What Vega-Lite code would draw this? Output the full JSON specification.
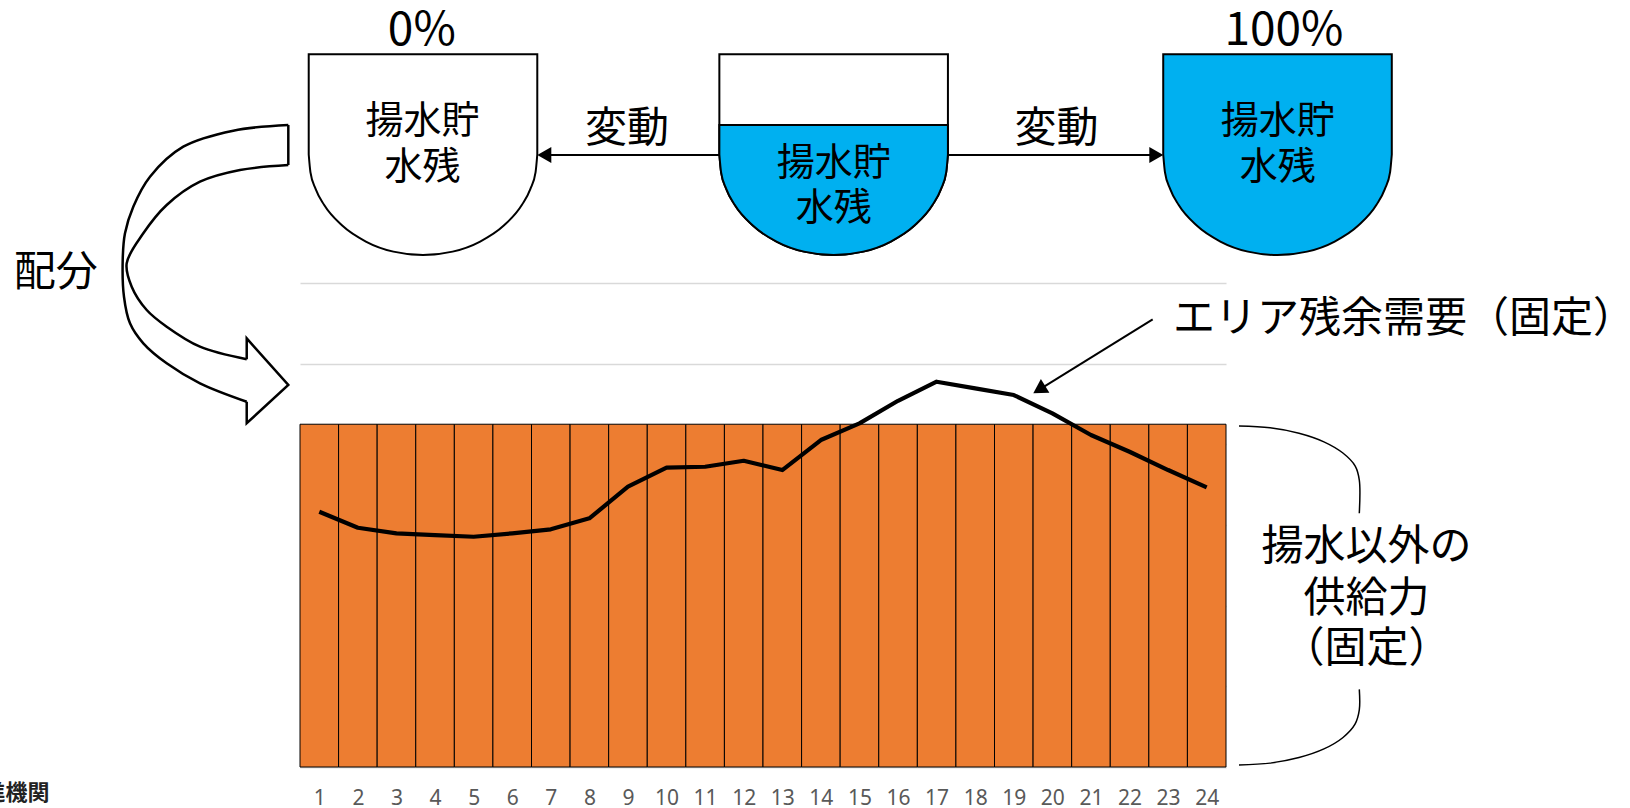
{
  "$schema": "https://vega.github.io/schema/vega-lite/v6.json",
  "width": 926,
  "height": 767,
  "autosize": {"type": "none"},
  "padding": {"left": 300, "top": 0, "right": 404, "bottom": 41},
  "background": "white",
  "config": {"view": {"stroke": null}, "font": "Noto Sans CJK JP"},
  "datasets": {
    "hourly": [
      {"hour": 1, "supply": 425, "demand": 316.5},
      {"hour": 2, "supply": 425, "demand": 296.7},
      {"hour": 3, "supply": 425, "demand": 289.7},
      {"hour": 4, "supply": 425, "demand": 287.6},
      {"hour": 5, "supply": 425, "demand": 285.5},
      {"hour": 6, "supply": 425, "demand": 289.7},
      {"hour": 7, "supply": 425, "demand": 294.7},
      {"hour": 8, "supply": 425, "demand": 308.3},
      {"hour": 9, "supply": 425, "demand": 347.5},
      {"hour": 10, "supply": 425, "demand": 371.1},
      {"hour": 11, "supply": 425, "demand": 372.3},
      {"hour": 12, "supply": 425, "demand": 379.7},
      {"hour": 13, "supply": 425, "demand": 368.2},
      {"hour": 14, "supply": 425, "demand": 405.4},
      {"hour": 15, "supply": 425, "demand": 426.1},
      {"hour": 16, "supply": 425, "demand": 454.1},
      {"hour": 17, "supply": 425, "demand": 477.7},
      {"hour": 18, "supply": 425, "demand": 469.5},
      {"hour": 19, "supply": 425, "demand": 461.2},
      {"hour": 20, "supply": 425, "demand": 438.5},
      {"hour": 21, "supply": 425, "demand": 411.6},
      {"hour": 22, "supply": 425, "demand": 390.9},
      {"hour": 23, "supply": 425, "demand": 368.2},
      {"hour": 24, "supply": 425, "demand": 346.8}
    ],
    "tanks": [
      {"tank": "t1", "part": "shell", "content": "empty", "x": 0.726, "top": 883.6, "bottom": 759.4},
      {"tank": "t1", "part": "shell", "content": "empty", "x": 0.770, "top": 883.6, "bottom": 737.7},
      {"tank": "t1", "part": "shell", "content": "empty", "x": 0.904, "top": 883.6, "bottom": 716.8},
      {"tank": "t1", "part": "shell", "content": "empty", "x": 1.123, "top": 883.6, "bottom": 697.1},
      {"tank": "t1", "part": "shell", "content": "empty", "x": 1.594, "top": 883.6, "bottom": 671.3},
      {"tank": "t1", "part": "shell", "content": "empty", "x": 2.207, "top": 883.6, "bottom": 651.5},
      {"tank": "t1", "part": "shell", "content": "empty", "x": 2.921, "top": 883.6, "bottom": 639.0},
      {"tank": "t1", "part": "shell", "content": "empty", "x": 3.688, "top": 883.6, "bottom": 634.8},
      {"tank": "t1", "part": "shell", "content": "empty", "x": 4.455, "top": 883.6, "bottom": 639.0},
      {"tank": "t1", "part": "shell", "content": "empty", "x": 5.169, "top": 883.6, "bottom": 651.5},
      {"tank": "t1", "part": "shell", "content": "empty", "x": 5.782, "top": 883.6, "bottom": 671.3},
      {"tank": "t1", "part": "shell", "content": "empty", "x": 6.253, "top": 883.6, "bottom": 697.1},
      {"tank": "t1", "part": "shell", "content": "empty", "x": 6.472, "top": 883.6, "bottom": 716.8},
      {"tank": "t1", "part": "shell", "content": "empty", "x": 6.606, "top": 883.6, "bottom": 737.7},
      {"tank": "t1", "part": "shell", "content": "empty", "x": 6.650, "top": 883.6, "bottom": 759.4},
      {"tank": "t2", "part": "shell", "content": "empty", "x": 11.369, "top": 883.6, "bottom": 759.4},
      {"tank": "t2", "part": "shell", "content": "empty", "x": 11.413, "top": 883.6, "bottom": 737.7},
      {"tank": "t2", "part": "shell", "content": "empty", "x": 11.547, "top": 883.6, "bottom": 716.8},
      {"tank": "t2", "part": "shell", "content": "empty", "x": 11.766, "top": 883.6, "bottom": 697.1},
      {"tank": "t2", "part": "shell", "content": "empty", "x": 12.237, "top": 883.6, "bottom": 671.3},
      {"tank": "t2", "part": "shell", "content": "empty", "x": 12.850, "top": 883.6, "bottom": 651.5},
      {"tank": "t2", "part": "shell", "content": "empty", "x": 13.564, "top": 883.6, "bottom": 639.0},
      {"tank": "t2", "part": "shell", "content": "empty", "x": 14.331, "top": 883.6, "bottom": 634.8},
      {"tank": "t2", "part": "shell", "content": "empty", "x": 15.098, "top": 883.6, "bottom": 639.0},
      {"tank": "t2", "part": "shell", "content": "empty", "x": 15.812, "top": 883.6, "bottom": 651.5},
      {"tank": "t2", "part": "shell", "content": "empty", "x": 16.425, "top": 883.6, "bottom": 671.3},
      {"tank": "t2", "part": "shell", "content": "empty", "x": 16.896, "top": 883.6, "bottom": 697.1},
      {"tank": "t2", "part": "shell", "content": "empty", "x": 17.115, "top": 883.6, "bottom": 716.8},
      {"tank": "t2", "part": "shell", "content": "empty", "x": 17.249, "top": 883.6, "bottom": 737.7},
      {"tank": "t2", "part": "shell", "content": "empty", "x": 17.293, "top": 883.6, "bottom": 759.4},
      {"tank": "t2w", "part": "water", "content": "full", "x": 11.369, "top": 795.9, "bottom": 759.4},
      {"tank": "t2w", "part": "water", "content": "full", "x": 11.413, "top": 795.9, "bottom": 737.7},
      {"tank": "t2w", "part": "water", "content": "full", "x": 11.547, "top": 795.9, "bottom": 716.8},
      {"tank": "t2w", "part": "water", "content": "full", "x": 11.766, "top": 795.9, "bottom": 697.1},
      {"tank": "t2w", "part": "water", "content": "full", "x": 12.237, "top": 795.9, "bottom": 671.3},
      {"tank": "t2w", "part": "water", "content": "full", "x": 12.850, "top": 795.9, "bottom": 651.5},
      {"tank": "t2w", "part": "water", "content": "full", "x": 13.564, "top": 795.9, "bottom": 639.0},
      {"tank": "t2w", "part": "water", "content": "full", "x": 14.331, "top": 795.9, "bottom": 634.8},
      {"tank": "t2w", "part": "water", "content": "full", "x": 15.098, "top": 795.9, "bottom": 639.0},
      {"tank": "t2w", "part": "water", "content": "full", "x": 15.812, "top": 795.9, "bottom": 651.5},
      {"tank": "t2w", "part": "water", "content": "full", "x": 16.425, "top": 795.9, "bottom": 671.3},
      {"tank": "t2w", "part": "water", "content": "full", "x": 16.896, "top": 795.9, "bottom": 697.1},
      {"tank": "t2w", "part": "water", "content": "full", "x": 17.115, "top": 795.9, "bottom": 716.8},
      {"tank": "t2w", "part": "water", "content": "full", "x": 17.249, "top": 795.9, "bottom": 737.7},
      {"tank": "t2w", "part": "water", "content": "full", "x": 17.293, "top": 795.9, "bottom": 759.4},
      {"tank": "t3", "part": "shell", "content": "full", "x": 22.873, "top": 883.6, "bottom": 759.4},
      {"tank": "t3", "part": "shell", "content": "full", "x": 22.917, "top": 883.6, "bottom": 737.7},
      {"tank": "t3", "part": "shell", "content": "full", "x": 23.051, "top": 883.6, "bottom": 716.8},
      {"tank": "t3", "part": "shell", "content": "full", "x": 23.270, "top": 883.6, "bottom": 697.1},
      {"tank": "t3", "part": "shell", "content": "full", "x": 23.741, "top": 883.6, "bottom": 671.3},
      {"tank": "t3", "part": "shell", "content": "full", "x": 24.354, "top": 883.6, "bottom": 651.5},
      {"tank": "t3", "part": "shell", "content": "full", "x": 25.068, "top": 883.6, "bottom": 639.0},
      {"tank": "t3", "part": "shell", "content": "full", "x": 25.835, "top": 883.6, "bottom": 634.8},
      {"tank": "t3", "part": "shell", "content": "full", "x": 26.602, "top": 883.6, "bottom": 639.0},
      {"tank": "t3", "part": "shell", "content": "full", "x": 27.316, "top": 883.6, "bottom": 651.5},
      {"tank": "t3", "part": "shell", "content": "full", "x": 27.929, "top": 883.6, "bottom": 671.3},
      {"tank": "t3", "part": "shell", "content": "full", "x": 28.400, "top": 883.6, "bottom": 697.1},
      {"tank": "t3", "part": "shell", "content": "full", "x": 28.619, "top": 883.6, "bottom": 716.8},
      {"tank": "t3", "part": "shell", "content": "full", "x": 28.753, "top": 883.6, "bottom": 737.7},
      {"tank": "t3", "part": "shell", "content": "full", "x": 28.797, "top": 883.6, "bottom": 759.4}
    ],
    "arrowLines": [
      {"id": "toEmpty", "x": 11.369, "y": 758.8, "x2": 6.83, "y2": 758.8},
      {"id": "toFull", "x": 17.295, "y": 758.8, "x2": 22.69, "y2": 758.8},
      {"id": "callout", "x": 22.600, "y": 555.1, "x2": 19.66, "y2": 467.9}
    ],
    "arrowHeads": [
      {"id": "toEmpty", "x": 6.832, "y": 758.8, "dir": 180},
      {"id": "toFull", "x": 22.694, "y": 758.8, "dir": 0},
      {"id": "callout", "x": 19.659, "y": 467.9, "dir": 148.2}
    ],
    "strokes": [
      {"shape": "arrowA", "ord": 0, "x": 0.197, "y": 796.0},
      {"shape": "arrowA", "ord": 1, "x": -1.229, "y": 789.0},
      {"shape": "arrowA", "ord": 2, "x": -2.525, "y": 769.1},
      {"shape": "arrowA", "ord": 3, "x": -3.388, "y": 731.9},
      {"shape": "arrowA", "ord": 4, "x": -3.821, "y": 694.7},
      {"shape": "arrowA", "ord": 5, "x": -4.036, "y": 661.7},
      {"shape": "arrowA", "ord": 6, "x": -4.095, "y": 628.6},
      {"shape": "arrowA", "ord": 7, "x": -4.062, "y": 583.1},
      {"shape": "arrowA", "ord": 8, "x": -3.906, "y": 550.1},
      {"shape": "arrowA", "ord": 9, "x": -3.561, "y": 525.3},
      {"shape": "arrowA", "ord": 10, "x": -2.955, "y": 500.5},
      {"shape": "arrowA", "ord": 11, "x": -2.092, "y": 475.7},
      {"shape": "arrowA", "ord": 12, "x": -0.881, "y": 452.9},
      {"shape": "arrowB", "ord": 0, "x": 0.197, "y": 746.4},
      {"shape": "arrowB", "ord": 1, "x": -1.055, "y": 740.2},
      {"shape": "arrowB", "ord": 2, "x": -2.092, "y": 725.7},
      {"shape": "arrowB", "ord": 3, "x": -2.955, "y": 696.8},
      {"shape": "arrowB", "ord": 4, "x": -3.561, "y": 661.7},
      {"shape": "arrowB", "ord": 5, "x": -3.992, "y": 624.5},
      {"shape": "arrowB", "ord": 6, "x": -3.862, "y": 595.5},
      {"shape": "arrowB", "ord": 7, "x": -3.473, "y": 566.6},
      {"shape": "arrowB", "ord": 8, "x": -2.955, "y": 545.9},
      {"shape": "arrowB", "ord": 9, "x": -2.092, "y": 521.1},
      {"shape": "arrowB", "ord": 10, "x": -0.881, "y": 505.5},
      {"shape": "arrowHead", "ord": 0, "x": -0.881, "y": 505.5},
      {"shape": "arrowHead", "ord": 1, "x": -0.881, "y": 531.5},
      {"shape": "arrowHead", "ord": 2, "x": 0.197, "y": 473.6},
      {"shape": "arrowHead", "ord": 3, "x": -0.881, "y": 426.2},
      {"shape": "arrowHead", "ord": 4, "x": -0.881, "y": 452.9},
      {"shape": "arrowTail", "ord": 0, "x": 0.197, "y": 796.0},
      {"shape": "arrowTail", "ord": 1, "x": 0.197, "y": 746.4},
      {"shape": "braceTop", "ord": 0, "x": 24.837, "y": 422.8},
      {"shape": "braceTop", "ord": 1, "x": 25.643, "y": 420.6},
      {"shape": "braceTop", "ord": 2, "x": 26.392, "y": 413.9},
      {"shape": "braceTop", "ord": 3, "x": 27.038, "y": 403.2},
      {"shape": "braceTop", "ord": 4, "x": 27.530, "y": 389.3},
      {"shape": "braceTop", "ord": 5, "x": 27.849, "y": 373.2},
      {"shape": "braceTop", "ord": 6, "x": 27.955, "y": 355.8},
      {"shape": "braceTop", "ord": 7, "x": 27.955, "y": 314.6},
      {"shape": "braceBottom", "ord": 0, "x": 27.955, "y": 96.3},
      {"shape": "braceBottom", "ord": 1, "x": 27.955, "y": 70.7},
      {"shape": "braceBottom", "ord": 2, "x": 27.844, "y": 53.1},
      {"shape": "braceBottom", "ord": 3, "x": 27.533, "y": 36.6},
      {"shape": "braceBottom", "ord": 4, "x": 27.038, "y": 22.4},
      {"shape": "braceBottom", "ord": 5, "x": 26.392, "y": 11.7},
      {"shape": "braceBottom", "ord": 6, "x": 25.643, "y": 4.8},
      {"shape": "braceBottom", "ord": 7, "x": 24.837, "y": 2.5}
    ],
    "labels": [
      {"kind": "pct", "text": "0%", "x": 3.657, "y": 912.5},
      {"kind": "pct", "text": "100%", "x": 26.0, "y": 912.5},
      {"kind": "big", "text": "変動", "x": 8.978, "y": 790.6},
      {"kind": "big", "text": "変動", "x": 20.104, "y": 790.6},
      {"kind": "big", "text": "配分", "x": -5.832, "y": 612.7},
      {"kind": "big", "text": "エリア残余需要（固定）", "x": 29.113, "y": 556.0},
      {"kind": "big", "text": "揚水以外の", "x": 28.139, "y": 272.8},
      {"kind": "big", "text": "供給力", "x": 28.139, "y": 208.9},
      {"kind": "big", "text": "（固定）", "x": 28.139, "y": 145.7},
      {"kind": "tank", "text": "揚水貯", "x": 3.675, "y": 799.7},
      {"kind": "tank", "text": "水残", "x": 3.675, "y": 742.9},
      {"kind": "tank", "text": "揚水貯", "x": 14.332, "y": 748.0},
      {"kind": "tank", "text": "水残", "x": 14.332, "y": 692.3},
      {"kind": "tank", "text": "揚水貯", "x": 25.840, "y": 799.7},
      {"kind": "tank", "text": "水残", "x": 25.840, "y": 742.9},
      {"kind": "logo", "text": "推進機関", "x": -5.992, "y": -32.2}
    ]
  },
  "layer": [
    {
      "data": {"name": "hourly"},
      "mark": {"type": "bar", "fill": "#ED7D31", "stroke": "black", "strokeWidth": 1, "width": {"expr": "width/24"}},
      "encoding": {
        "x": {
          "field": "hour", "type": "quantitative",
          "scale": {"domain": [0.5, 24.5], "nice": false, "zero": false, "padding": 0},
          "axis": {
            "orient": "bottom",
            "values": [1,2,3,4,5,6,7,8,9,10,11,12,13,14,15,16,17,18,19,20,21,22,23,24],
            "title": null, "ticks": false, "domain": true, "domainColor": "#d9d9d9", "domainWidth": 1.5,
            "grid": false, "labels": true, "labelFontSize": 21, "labelColor": "#595959", "labelPadding": 20,
            "labelFont": "Noto Sans", "format": "d", "labelFlush": false, "labelOverlap": false
          }
        },
        "y": {
          "field": "supply", "type": "quantitative",
          "scale": {"domain": [0, 951], "nice": false, "zero": true},
          "axis": {
            "orient": "left",
            "values": [0, 100, 200, 300, 400, 500, 600], "title": null, "labels": false,
            "ticks": false, "domain": false, "grid": true, "gridColor": "#d9d9d9", "gridWidth": 1.5
          }
        }
      }
    },
    {
      "data": {"name": "hourly"},
      "mark": {"type": "line", "color": "black", "strokeWidth": 4.2, "strokeJoin": "round"},
      "encoding": {
        "x": {"field": "hour", "type": "quantitative", "axis": {"title": null}},
        "y": {"field": "demand", "type": "quantitative", "axis": {"title": null}}
      }
    },
    {
      "data": {"name": "tanks"},
      "transform": [{"filter": "datum.part == 'shell'"}],
      "mark": {"type": "area", "stroke": "black", "strokeWidth": 2, "interpolate": "monotone", "opacity": 1, "fillOpacity": 1},
      "encoding": {
        "x": {"field": "x", "type": "quantitative", "axis": {"title": null}},
        "y": {"field": "top", "type": "quantitative", "stack": null, "axis": {"title": null}},
        "y2": {"field": "bottom"},
        "detail": {"field": "tank", "type": "nominal"},
        "color": {"field": "content", "type": "nominal", "scale": {"domain": ["empty", "full"], "range": ["#ffffff", "#00B0F0"]}, "legend": null}
      }
    },
    {
      "data": {"name": "tanks"},
      "transform": [{"filter": "datum.part == 'water'"}],
      "mark": {"type": "area", "stroke": "black", "strokeWidth": 2, "interpolate": "monotone", "opacity": 1, "fillOpacity": 1},
      "encoding": {
        "x": {"field": "x", "type": "quantitative", "axis": {"title": null}},
        "y": {"field": "top", "type": "quantitative", "stack": null, "axis": {"title": null}},
        "y2": {"field": "bottom"},
        "detail": {"field": "tank", "type": "nominal"},
        "color": {"field": "content", "type": "nominal", "scale": {"domain": ["empty", "full"], "range": ["#ffffff", "#00B0F0"]}, "legend": null}
      }
    },
    {
      "data": {"name": "arrowLines"},
      "mark": {"type": "rule", "color": "black", "strokeWidth": 2},
      "encoding": {
        "x": {"field": "x", "type": "quantitative", "axis": {"title": null}},
        "y": {"field": "y", "type": "quantitative", "axis": {"title": null}},
        "x2": {"field": "x2"},
        "y2": {"field": "y2"}
      }
    },
    {
      "data": {"name": "arrowHeads"},
      "mark": {"type": "point", "shape": "triangle-right", "filled": true, "color": "black", "size": 260, "opacity": 1},
      "encoding": {
        "x": {"field": "x", "type": "quantitative", "axis": {"title": null}},
        "y": {"field": "y", "type": "quantitative", "axis": {"title": null}},
        "angle": {"field": "dir", "type": "quantitative", "scale": null}
      }
    },
    {
      "data": {"name": "strokes"},
      "transform": [{"filter": {"field": "shape", "oneOf": ["arrowA", "arrowB"]}}],
      "mark": {"type": "line", "color": "black", "strokeWidth": 2.5, "interpolate": "catmull-rom"},
      "encoding": {
        "x": {"field": "x", "type": "quantitative", "axis": {"title": null}},
        "y": {"field": "y", "type": "quantitative", "axis": {"title": null}},
        "detail": {"field": "shape", "type": "nominal"},
        "order": {"field": "ord", "type": "quantitative"}
      }
    },
    {
      "data": {"name": "strokes"},
      "transform": [{"filter": {"field": "shape", "oneOf": ["arrowHead", "arrowTail"]}}],
      "mark": {"type": "line", "color": "black", "strokeWidth": 2.5, "strokeJoin": "miter"},
      "encoding": {
        "x": {"field": "x", "type": "quantitative", "axis": {"title": null}},
        "y": {"field": "y", "type": "quantitative", "axis": {"title": null}},
        "detail": {"field": "shape", "type": "nominal"},
        "order": {"field": "ord", "type": "quantitative"}
      }
    },
    {
      "data": {"name": "strokes"},
      "transform": [{"filter": {"field": "shape", "oneOf": ["braceTop", "braceBottom"]}}],
      "mark": {"type": "line", "color": "black", "strokeWidth": 1.5, "interpolate": "catmull-rom"},
      "encoding": {
        "x": {"field": "x", "type": "quantitative", "axis": {"title": null}},
        "y": {"field": "y", "type": "quantitative", "axis": {"title": null}},
        "detail": {"field": "shape", "type": "nominal"},
        "order": {"field": "ord", "type": "quantitative"}
      }
    },
    {
      "data": {"name": "labels"},
      "transform": [{"filter": "datum.kind == 'pct'"}],
      "mark": {"type": "text", "fontSize": 46, "color": "black", "baseline": "middle", "align": "center"},
      "encoding": {
        "x": {"field": "x", "type": "quantitative", "axis": {"title": null}},
        "y": {"field": "y", "type": "quantitative", "axis": {"title": null}},
        "text": {"field": "text"}
      }
    },
    {
      "data": {"name": "labels"},
      "transform": [{"filter": "datum.kind == 'big'"}],
      "mark": {"type": "text", "fontSize": 42, "color": "black", "baseline": "middle", "align": "center"},
      "encoding": {
        "x": {"field": "x", "type": "quantitative", "axis": {"title": null}},
        "y": {"field": "y", "type": "quantitative", "axis": {"title": null}},
        "text": {"field": "text"}
      }
    },
    {
      "data": {"name": "labels"},
      "transform": [{"filter": "datum.kind == 'tank'"}],
      "mark": {"type": "text", "fontSize": 38, "color": "black", "baseline": "middle", "align": "center"},
      "encoding": {
        "x": {"field": "x", "type": "quantitative", "axis": {"title": null}},
        "y": {"field": "y", "type": "quantitative", "axis": {"title": null}},
        "text": {"field": "text"}
      }
    },
    {
      "data": {"name": "labels"},
      "transform": [{"filter": "datum.kind == 'logo'"}],
      "mark": {"type": "text", "fontSize": 22, "fontWeight": "bold", "color": "#222222", "baseline": "middle", "align": "right"},
      "encoding": {
        "x": {"field": "x", "type": "quantitative", "axis": {"title": null}},
        "y": {"field": "y", "type": "quantitative", "axis": {"title": null}},
        "text": {"field": "text"}
      }
    }
  ]
}
